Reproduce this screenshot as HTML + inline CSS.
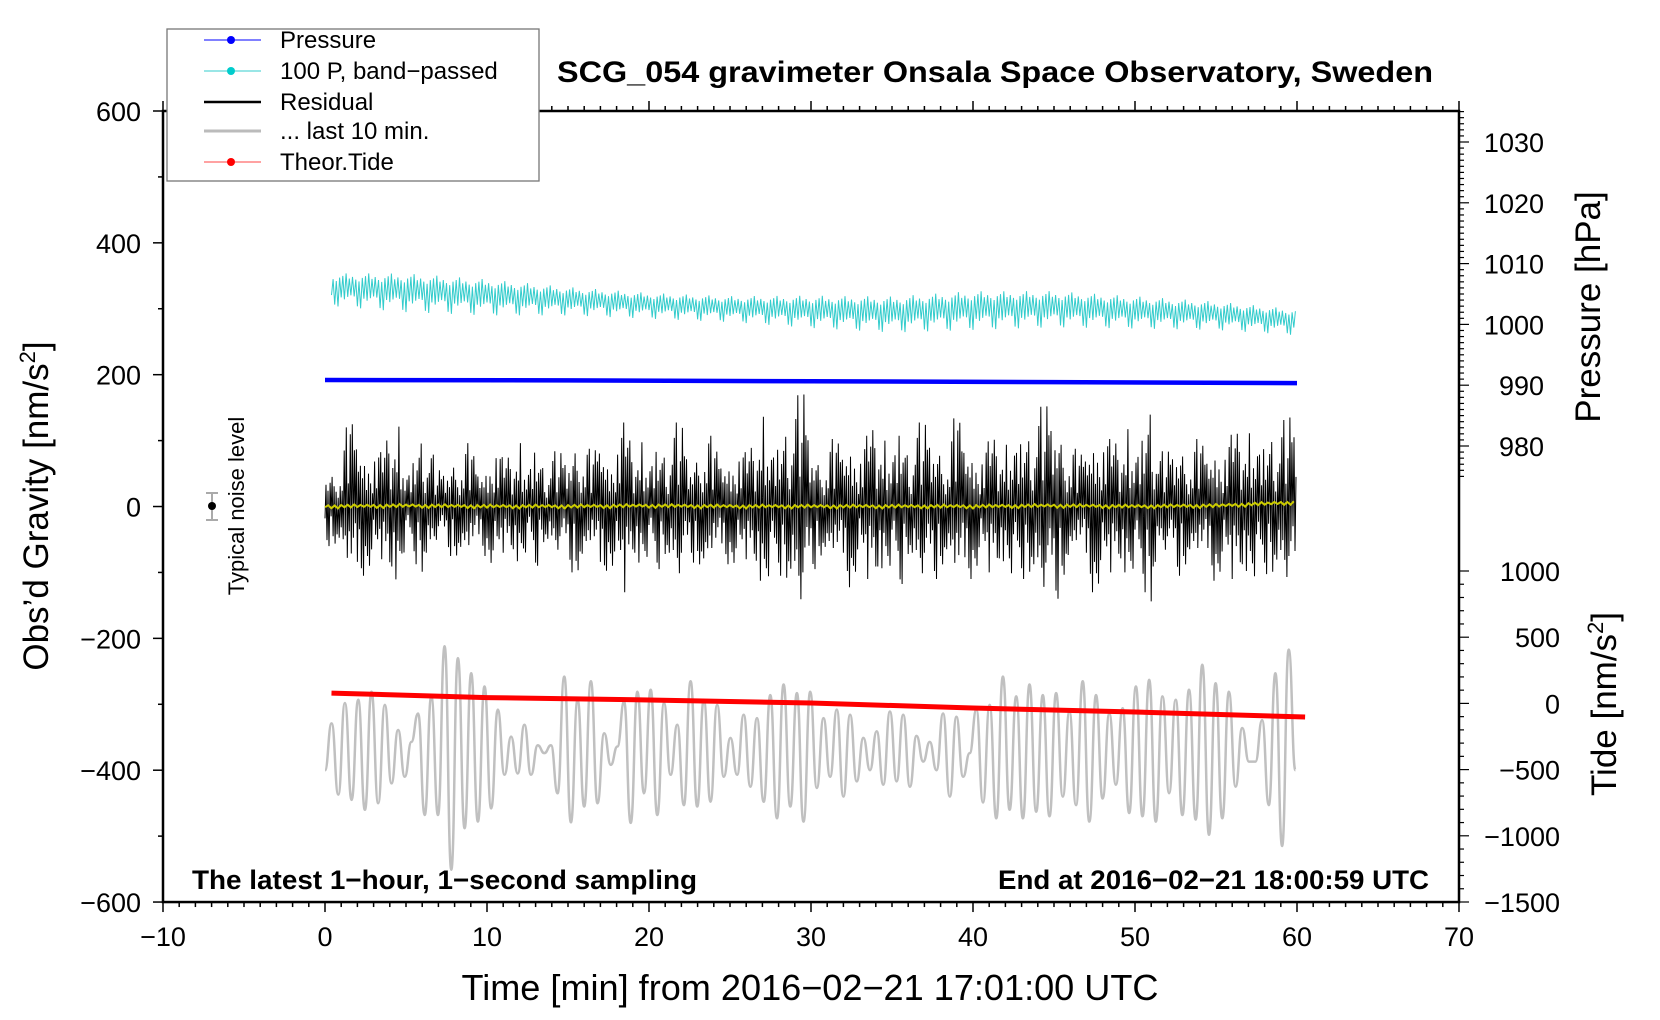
<!DOCTYPE html>
<html><head><meta charset="utf-8"><style>
html,body{margin:0;padding:0;background:#fff}
svg{display:block;font-family:"Liberation Sans",Arial,sans-serif}
</style></head><body>
<svg id="chart" width="1660" height="1020" viewBox="0 0 1660 1020" xmlns="http://www.w3.org/2000/svg">
<g id="marks"></g>
<g id="axes"></g>
<text x="995" y="82" text-anchor="middle" font-size="30" font-weight="bold" textLength="876" lengthAdjust="spacingAndGlyphs">SCG_054 gravimeter Onsala Space Observatory, Sweden</text>
<text transform="translate(48,506) rotate(-90)" text-anchor="middle" font-size="35">Obs’d Gravity [nm/s<tspan font-size="22" dy="-13">2</tspan><tspan dy="13">]</tspan></text>
<text x="810" y="1000" text-anchor="middle" font-size="36" textLength="697" lengthAdjust="spacingAndGlyphs">Time [min] from 2016−02−21 17:01:00 UTC</text>
<text transform="translate(1600,307) rotate(-90)" text-anchor="middle" font-size="35">Pressure [hPa]</text>
<text transform="translate(1616,704) rotate(-90)" text-anchor="middle" font-size="35">Tide [nm/s<tspan font-size="22" dy="-13">2</tspan><tspan dy="13">]</tspan></text>
<text x="192" y="889" font-size="27" font-weight="bold" textLength="505" lengthAdjust="spacingAndGlyphs">The latest 1−hour, 1−second sampling</text>
<text x="998" y="889" font-size="27" font-weight="bold" textLength="431" lengthAdjust="spacingAndGlyphs">End at 2016−02−21 18:00:59 UTC</text>
<g>
<line x1="212" y1="493" x2="212" y2="520" stroke="#aaa" stroke-width="2"/>
<line x1="206" y1="493" x2="218" y2="493" stroke="#aaa" stroke-width="2"/>
<line x1="206" y1="520" x2="218" y2="520" stroke="#aaa" stroke-width="2"/>
<circle cx="212" cy="506" r="4" fill="#000"/>
</g>
<text transform="translate(244,506) rotate(-90)" text-anchor="middle" font-size="22">Typical noise level</text>
<g>
<rect x="167" y="29" width="372" height="152" fill="#fff" stroke="#777" stroke-width="1.3"/>
<g><line x1="204" y1="40" x2="261" y2="40" stroke="#00f" stroke-width="1"/><circle cx="231" cy="40" r="4" fill="#00f"/><text x="280" y="48" font-size="24">Pressure</text></g>
<g><line x1="204" y1="71" x2="261" y2="71" stroke="#3cc" stroke-width="1"/><circle cx="231" cy="71" r="4" fill="#0cc"/><text x="280" y="79" font-size="24">100 P, band−passed</text></g>
<g><line x1="204" y1="102" x2="261" y2="102" stroke="#000" stroke-width="2.5"/><text x="280" y="110" font-size="24">Residual</text></g>
<g><line x1="204" y1="131" x2="261" y2="131" stroke="#bbb" stroke-width="3"/><text x="280" y="139" font-size="24">... last 10 min.</text></g>
<g><line x1="204" y1="162" x2="261" y2="162" stroke="#f44" stroke-width="1"/><circle cx="231" cy="162" r="4" fill="#f00"/><text x="280" y="170" font-size="24">Theor.Tide</text></g>
</g>
</svg>
<script>
// ---- data ----
const xTicks = [-10,0,10,20,30,40,50,60,70];
const yTicks = [600,400,200,0,-200,-400,-600];
const pTicks = [1030,1020,1010,1000,990,980];
const tideTicks = [1000,500,0,-500,-1000,-1500];
// residual peak amplitude, every 0.5 min from 0 to 60
const resAmp = [60,60,70,150,120,100,100,80,130,130,
 60,80,110,90,60,70,80,90,100,60,
 80,110,70,90,100,70,100,60,80,90,
 90,110,100,80,120,90,110,130,100,100,
 80,100,80,120,140,80,90,120,100,80,
 90,100,80,110,140,110,100,120,150,200,
 110,80,90,110,100,130,90,110,140,100,
 100,130,80,120,140,120,100,90,160,110,
 110,90,100,120,90,120,110,110,140,170,
 160,120,100,80,100,140,120,100,110,120,
 100,120,160,80,90,110,100,90,110,90,
 120,100,110,130,110,120,100,110,120,150,150];
// band-passed pressure (x100), every 5 min
const cyanMean = [330,325,318,312,305,300,296,292,298,300,295,290,280];
const cyanAmp = [25,30,28,22,20,20,25,28,30,28,25,22,20];
// smoothed residual (yellow), every 5 min
const yellowMean = [0,1,0,0,1,0,0,0,0,1,0,1,6];
// pressure hPa
const pTimes = [0,15,30,45,60];
const pVals = [990.85,990.8,990.65,990.5,990.35];
// theoretical tide nm/s^2
const tideTimes = [0.4,10,20,30,40,50,60.5];
const tideVals = [78,44,26,3,-35,-65,-103];
// last 10 min residual extrema (offset -400), evenly spread over display
const grayVals = [-400,-329,-437,-298,-445,-293,-460,-281,-450,-301,-420,-339,-410,-357,-314,-468,-288,-468,-212,-551,-230,-488,-253,-478,-273,-458,-308,-407,-349,-405,-331,-407,-362,-374,-362,-435,-258,-479,-293,-455,-265,-450,-344,-392,-364,-296,-480,-281,-435,-278,-468,-298,-407,-331,-453,-265,-455,-293,-448,-301,-410,-351,-407,-316,-425,-321,-448,-286,-473,-270,-455,-283,-478,-281,
-427,-321,-410,-308,-440,-316,-417,-351,-400,-341,-422,-311,-417,-316,-425,-348,-387,-357,-400,-314,-440,-319,-410,-374,-308,-449,-301,-473,-258,-460,-288,-473,-270,-463,-286,-470,-283,-440,-311,-453,-265,-478,-286,-443,-314,-422,-306,-465,-273,-470,-263,-478,-288,-435,-293,-468,-278,-475,-240,-498,-268,-473,-281,-425,-336,-387,-387,-324,-453,-253,-515,-217,-400];

// ---- scales ----
const X = t => 163 + (t + 10) * 16.2;
const Y = v => 111 + (600 - v) * 0.6592;
const P = p => 142 + (1030 - p) * 6.08;
const TD = v => 902 - (v + 1500) * 0.1324;
const NS = 'http://www.w3.org/2000/svg';
const marks = document.getElementById('marks');
const axes = document.getElementById('axes');
function mk(tag, attrs, parent){const e=document.createElementNS(NS,tag);for(const k in attrs)e.setAttribute(k,attrs[k]);parent.appendChild(e);return e;}
function interp(arr, step, t){const i=Math.min(Math.floor(t/step),arr.length-2);const f=t/step-i;return arr[i]*(1-f)+arr[i+1]*f;}
const wPat=[0.35,0.6,0.9,0.5,1,0.7,0.45,0.8,0.55,0.95,0.4,0.65,0.3,0.75];
const rPat=[0.3,0.55,0.85,0.4,1,0.6,0.25,0.75,0.5,0.9,0.35,0.65,0.2,0.7,0.45];

// cyan band-passed
let d='';let n=0;
for(let t=0.4;t<=60;t+=1/10){const m=interp(cyanMean,5,t),a=interp(cyanAmp,5,t)*wPat[n%14]*(n%2?1:-1);d+=(n?'L':'M')+X(t).toFixed(1)+' '+Y(m+a).toFixed(1);n++;}
const cy=mk('path',{d:d,fill:'none',stroke:'#33cccc','stroke-width':1},marks);



// pressure
d=pTimes.map((t,i)=>(i?'L':'M')+X(t)+' '+P(pVals[i])).join('');
const pl=mk('path',{d:d,fill:'none',stroke:'#0000ff','stroke-width':4.5},marks);



// residual
d='';n=0;
for(let i=0;i<resAmp.length-1;i++){for(let k=0;k<8;k++){const t=i*0.5+k/16;const a=(resAmp[i]*(1-k/8)+resAmp[i+1]*k/8)*rPat[(k+i*7)%15]*(n%2?1:-1);d+=(n?'L':'M')+X(t).toFixed(1)+' '+Y(a).toFixed(1);n++;}}
const rl=mk('path',{d:d,fill:'none',stroke:'#000','stroke-width':1},marks);



// yellow smoothed
d='';n=0;
for(let t=0;t<=60;t+=0.2){const m=interp(yellowMean,5,t)+wPat[n%14]*3*(n%2?1:-1);d+=(n?'L':'M')+X(t).toFixed(1)+' '+Y(m).toFixed(1);n++;}
const yl=mk('path',{d:d,fill:'none',stroke:'#cccc00','stroke-width':2},marks);



// gray last 10 min
const gStep=59.9/(grayVals.length-1);
d='M'+X(0)+' '+Y(grayVals[0]);
for(let i=1;i<grayVals.length;i++){const x0=X((i-1)*gStep),x1=X(i*gStep),xm=(x0+x1)/2;d+='C'+xm.toFixed(1)+' '+Y(grayVals[i-1]).toFixed(1)+' '+xm.toFixed(1)+' '+Y(grayVals[i]).toFixed(1)+' '+x1.toFixed(1)+' '+Y(grayVals[i]).toFixed(1);}
const gl=mk('path',{d:d,fill:'none',stroke:'#c0c0c0','stroke-width':2.5},marks);



// tide
d=tideTimes.map((t,i)=>(i?'L':'M')+X(t)+' '+TD(tideVals[i])).join('');
const tl=mk('path',{d:d,fill:'none',stroke:'#ff0000','stroke-width':5},marks);



// ---- axes ----
const L=X(-10),R=X(70),T=Y(600),B=Y(-600);
const frame=mk('rect',{x:L,y:T,width:R-L,height:B-T,fill:'none',stroke:'#000','stroke-width':2.5},axes);


for(let t=-10;t<=70;t+=1){const maj=(t%10===0);const len=maj?10:5;
 mk('line',{x1:X(t),y1:B,x2:X(t),y2:B+len,stroke:'#000','stroke-width':1.5},axes);
 mk('line',{x1:X(t),y1:T,x2:X(t),y2:T-len,stroke:'#000','stroke-width':1.5},axes);}
xTicks.forEach(t=>{const e=mk('text',{x:X(t),y:946,'text-anchor':'middle','font-size':27},axes);e.textContent=String(t).replace('-','−');
 
 });
for(let v=-600;v<=600;v+=100){const len=(v%200===0)?10:5;mk('line',{x1:L,y1:Y(v),x2:L-len,y2:Y(v),stroke:'#000','stroke-width':1.5},axes);}
yTicks.forEach(v=>{const e=mk('text',{x:141,y:Y(v)+10,'text-anchor':'end','font-size':27},axes);e.textContent=String(v).replace('-','−');
 
 });
for(let p=1035;p>=975;p--){const len=(p%10===0)?10:5;mk('line',{x1:R,y1:P(p),x2:R+len,y2:P(p),stroke:'#000','stroke-width':1.2},axes);}
pTicks.forEach(p=>{const e=mk('text',{x:1544,y:P(p)+10,'text-anchor':'end','font-size':27},axes);e.textContent=p;
 
 });
for(let v=-1500;v<=1000;v+=100){const len=(v%500===0)?10:5;mk('line',{x1:R,y1:TD(v),x2:R+len,y2:TD(v),stroke:'#000','stroke-width':1.2},axes);}
tideTicks.forEach(v=>{const e=mk('text',{x:1560,y:TD(v)+10,'text-anchor':'end','font-size':27},axes);e.textContent=String(v).replace('-','−');
 
 });
</script>
</body></html>
